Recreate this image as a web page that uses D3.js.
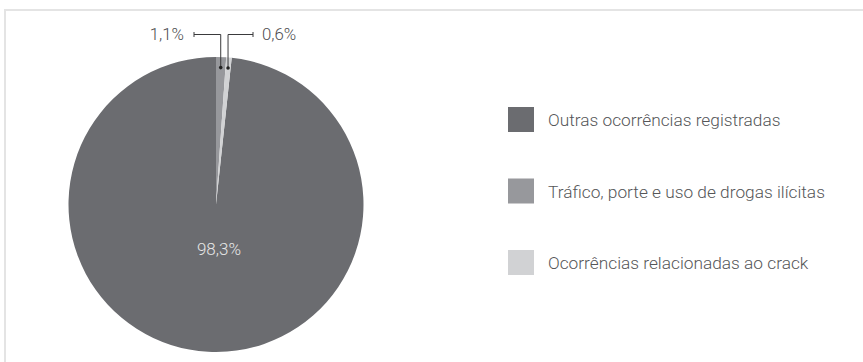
<!DOCTYPE html>
<html>
<head>
<meta charset="utf-8">
<script src="https://cdn.jsdelivr.net/npm/d3@7"></script>
<style>
  html, body { margin: 0; padding: 0; background: #fff; }
  svg { display: block; }
  text { font-family: Roboto, "Open Sans", sans-serif; font-weight: 300; }
</style>
</head>
<body>
<svg id="chart" width="863" height="362"></svg>
<script>
// Categories in legend order, with their shares (%)
const categories = [
  "Outras ocorrências registradas",
  "Tráfico, porte e uso de drogas ilícitas",
  "Ocorrências relacionadas ao crack"
];
const shares = [98.3, 1.1, 0.6];
const colors = ["#6b6c70", "#97989c", "#d1d2d4"];
// Clockwise order of slices starting at 12 o'clock
const sliceOrder = [1, 2, 0];

const fmt = v => d3.format(".1f")(v).replace(".", ",") + "%";

const svg = d3.select("#chart");
const W = 863, H = 362;

// Light frame along the top and left
svg.append("path")
  .attr("d", `M5,${H} L5,10 L${W},10`)
  .attr("fill", "none")
  .attr("stroke", "#e4e4e4")
  .attr("stroke-width", 2);

const cx = 216, cy = 204.5, R = 147.5;
const data = categories.map((name, i) => ({ name, value: shares[i], color: colors[i], order: sliceOrder.indexOf(i) }));

const pie = d3.pie()
  .value(d => d.value)
  .sort((a, b) => a.order - b.order);
const arcs = pie(data);
const arc = d3.arc().innerRadius(0).outerRadius(R);

const g = svg.append("g").attr("transform", `translate(${cx},${cy})`);
g.selectAll("path.slice")
  .data(arcs)
  .join("path")
  .attr("class", "slice")
  .attr("d", arc)
  .attr("fill", d => d.data.color);

// Label inside the large slice
const big = arcs.find(a => a.data.value === d3.max(shares));
g.append("text")
  .attr("x", 3)
  .attr("y", 46)
  .attr("text-anchor", "middle")
  .attr("dominant-baseline", "middle")
  .attr("fill", "#e6e6e6")
  .attr("font-size", 17)
  .text(fmt(big.data.value));

// Leader lines for the thin slices
const small = arcs.filter(a => a !== big).sort((a, b) => a.startAngle - b.startAngle);
const dotR = 137;
const lineY = 34.5 - cy;
const ends = [194 - cx, 253 - cx];
small.forEach((a, i) => {
  const mid = (a.startAngle + a.endAngle) / 2;
  const px = dotR * Math.sin(mid);
  const py = -dotR * Math.cos(mid);
  const ex = ends[i];
  g.append("path")
    .attr("d", `M${px},${py} L${px},${lineY} L${ex},${lineY}`)
    .attr("fill", "none")
    .attr("stroke", "#3a3a3c")
    .attr("stroke-width", 1);
  g.append("line")
    .attr("x1", ex).attr("x2", ex)
    .attr("y1", lineY - 2.5).attr("y2", lineY + 2.5)
    .attr("stroke", "#3a3a3c").attr("stroke-width", 1);
  g.append("circle")
    .attr("cx", px).attr("cy", py).attr("r", 1.8)
    .attr("fill", "#222");
  const left = i === 0;
  g.append("text")
    .attr("x", left ? ex - 10 : ex + 9)
    .attr("y", lineY + 1)
    .attr("text-anchor", left ? "end" : "start")
    .attr("dominant-baseline", "middle")
    .attr("fill", "#4d4d4f")
    .attr("font-size", 16.8)
    .text(fmt(a.data.value));
});

// Legend
const legendY = d3.scalePoint().domain(categories).range([119.5, 262.5]);
const lg = svg.append("g");
const item = lg.selectAll("g.item")
  .data(data)
  .join("g")
  .attr("class", "item")
  .attr("transform", d => `translate(508,${legendY(d.name)})`);
item.append("rect")
  .attr("x", 0).attr("y", -12.5)
  .attr("width", 26).attr("height", 25)
  .attr("fill", d => d.color);
item.append("text")
  .attr("x", 40)
  .attr("y", 6.5)
  .attr("fill", "#555658")
  .attr("font-size", 17.3)
  .text(d => d.name);
</script>
</body>
</html>
